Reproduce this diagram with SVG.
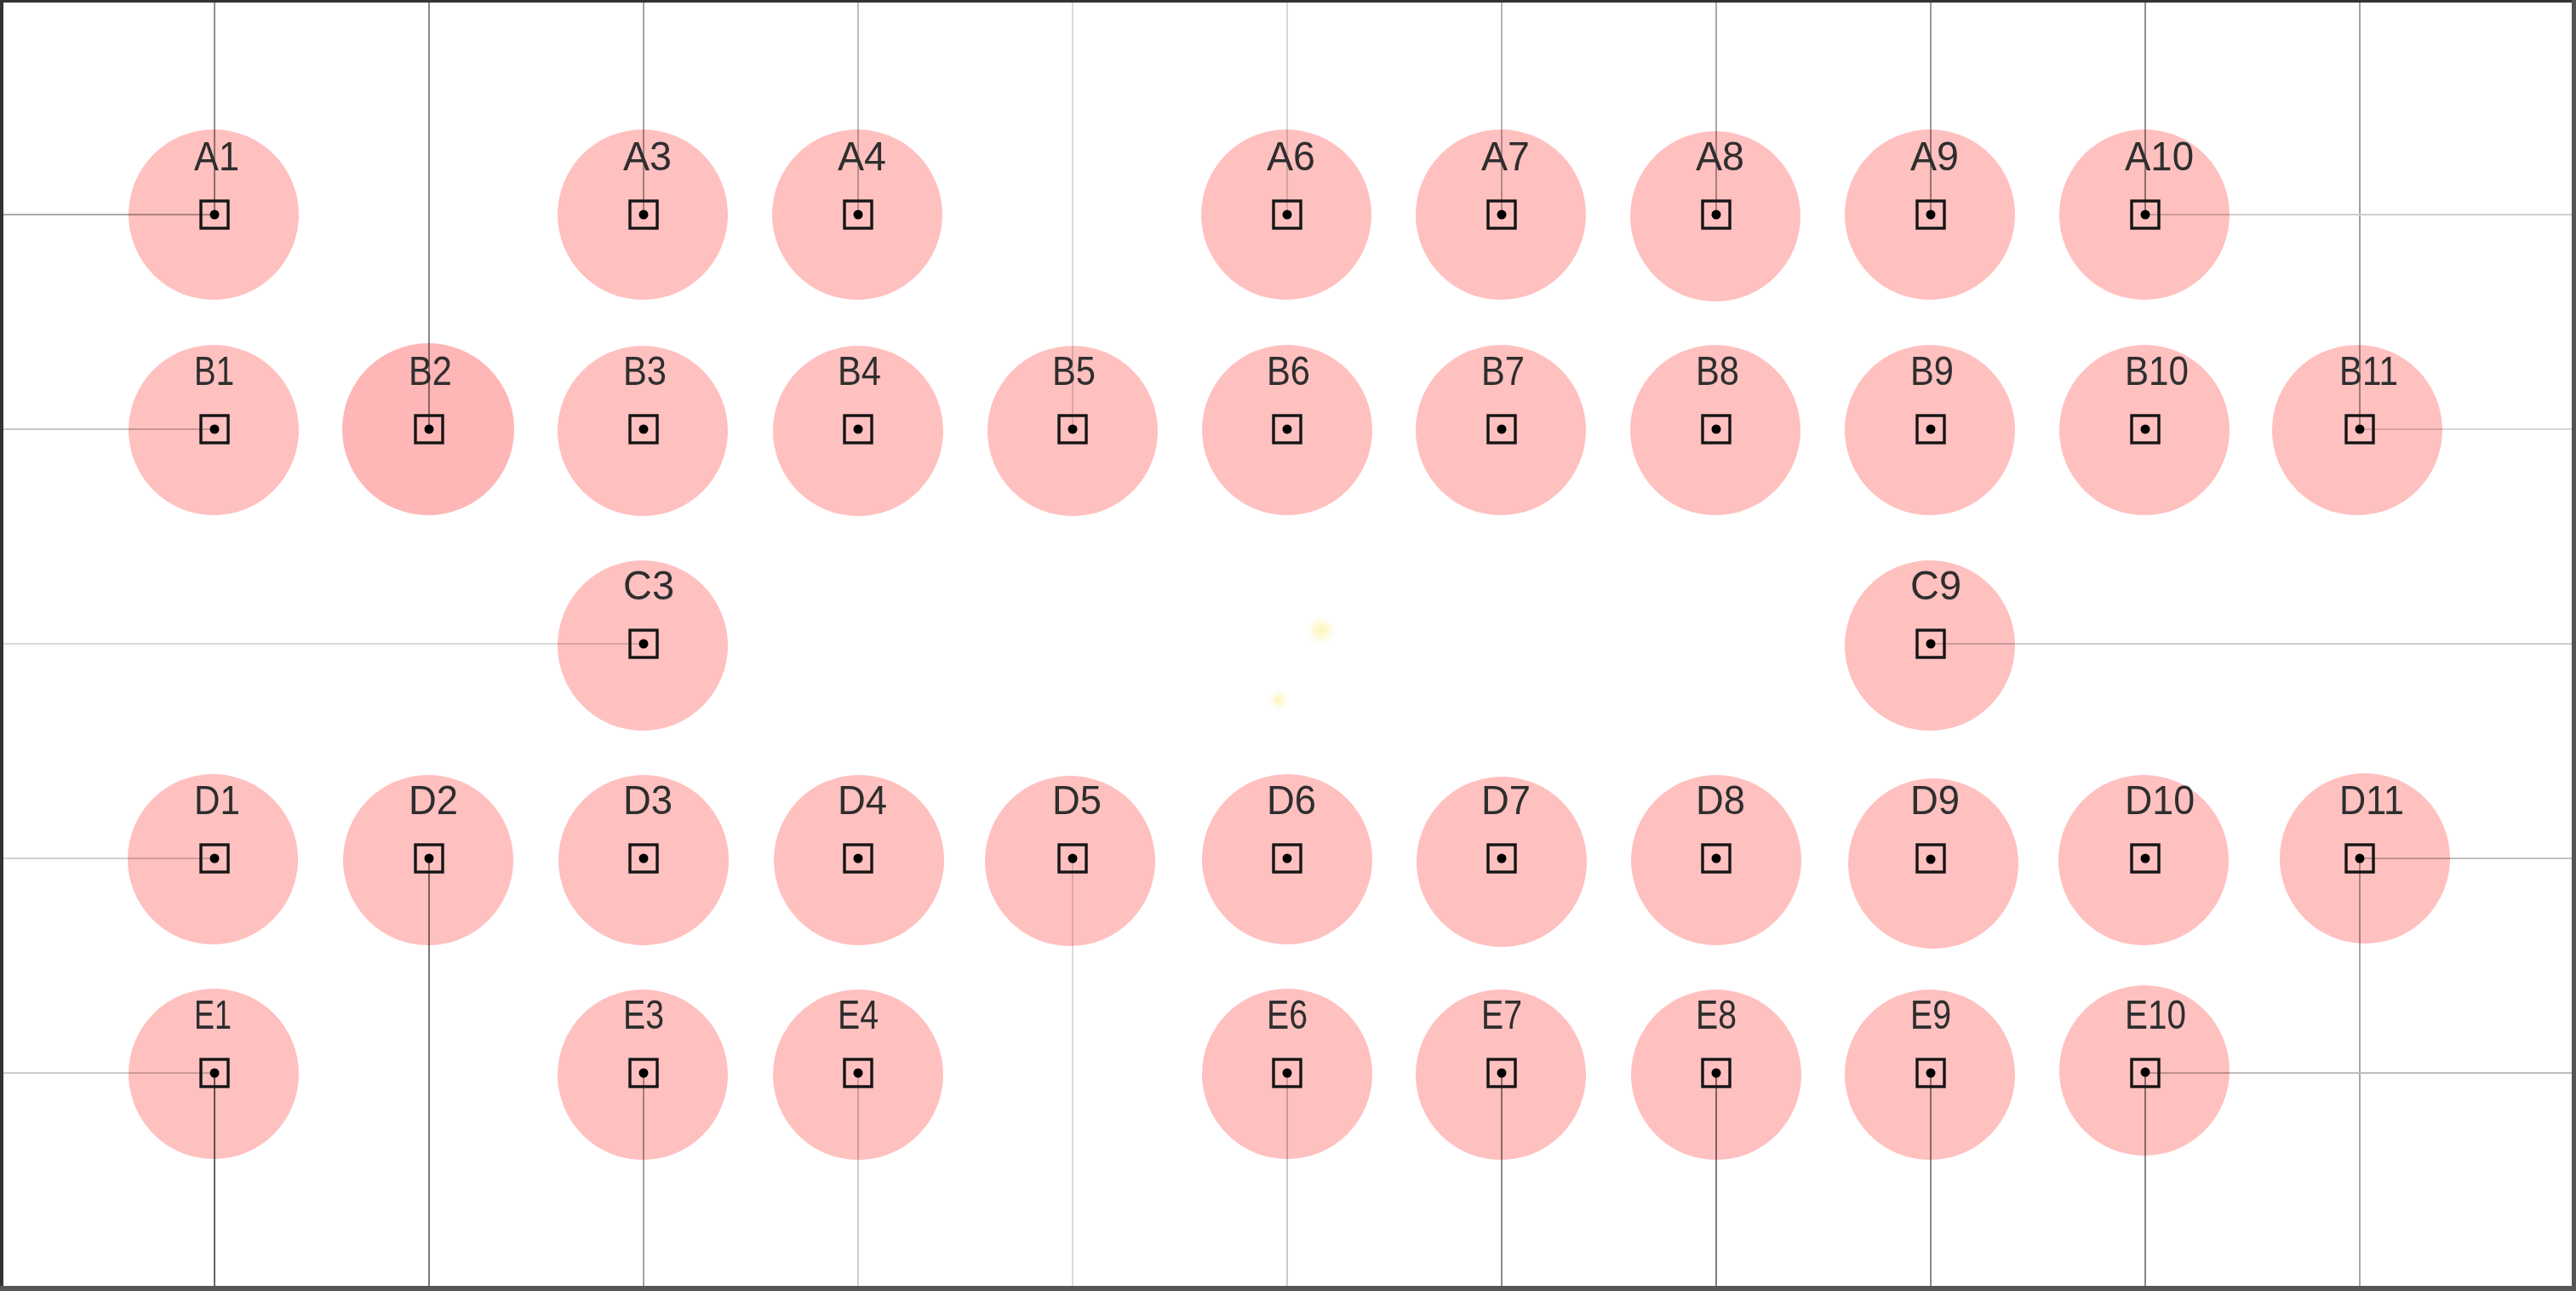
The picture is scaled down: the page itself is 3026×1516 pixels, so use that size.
<svg xmlns="http://www.w3.org/2000/svg" width="3026" height="1516" viewBox="0 0 3026 1516">
<defs>
<style>
.pad{fill:#ffc0c0;mix-blend-mode:multiply}
.pad2{fill:#ffb6b6;mix-blend-mode:multiply}
.box{fill:none;stroke:#151515;stroke-width:3.4}
.dot{fill:#000}
.lbl{font-family:"Liberation Sans",Arial,sans-serif;font-size:48px;fill:#2e2e2e}
.wire{stroke-width:2;fill:none}
</style>
<radialGradient id="glow">
<stop offset="0" stop-color="#fff4b0" stop-opacity="0.95"/>
<stop offset="0.5" stop-color="#fff6c4" stop-opacity="0.6"/>
<stop offset="1" stop-color="#fffbe6" stop-opacity="0"/>
</radialGradient>
</defs>
<rect x="0" y="0" width="3026" height="1516" fill="#ffffff"/>
<g id="glows">
<circle cx="1552" cy="740" r="18" fill="url(#glow)"/>
<circle cx="1502" cy="822" r="12" fill="url(#glow)"/>
</g>
<g id="connectors" class="wire">
<line x1="252" y1="0" x2="252" y2="252" stroke="#8f8f8f"/>
<line x1="504" y1="0" x2="504" y2="504" stroke="#8a8a8a"/>
<line x1="756" y1="0" x2="756" y2="252" stroke="#a5a5a5"/>
<line x1="1008" y1="0" x2="1008" y2="252" stroke="#bdbdbd"/>
<line x1="1260" y1="0" x2="1260" y2="504" stroke="#dcdcdc"/>
<line x1="1512" y1="0" x2="1512" y2="252" stroke="#d8d8d8"/>
<line x1="1764" y1="0" x2="1764" y2="252" stroke="#b5b5b5"/>
<line x1="2016" y1="0" x2="2016" y2="252" stroke="#a8a8a8"/>
<line x1="2268" y1="0" x2="2268" y2="252" stroke="#9a9a9a"/>
<line x1="2520" y1="0" x2="2520" y2="252" stroke="#909090"/>
<line x1="2772" y1="0" x2="2772" y2="504" stroke="#a0a0a0"/>

<line x1="252" y1="1260" x2="252" y2="1516" stroke="#666666"/>
<line x1="504" y1="1008" x2="504" y2="1516" stroke="#7a7a7a"/>
<line x1="756" y1="1260" x2="756" y2="1516" stroke="#a5a5a5"/>
<line x1="1008" y1="1260" x2="1008" y2="1516" stroke="#cfcfcf"/>
<line x1="1260" y1="1008" x2="1260" y2="1516" stroke="#dddddd"/>
<line x1="1512" y1="1260" x2="1512" y2="1516" stroke="#cccccc"/>
<line x1="1764" y1="1260" x2="1764" y2="1516" stroke="#8a8a8a"/>
<line x1="2016" y1="1260" x2="2016" y2="1516" stroke="#808080"/>
<line x1="2268" y1="1260" x2="2268" y2="1516" stroke="#8a8a8a"/>
<line x1="2520" y1="1260" x2="2520" y2="1516" stroke="#888888"/>
<line x1="2772" y1="1008" x2="2772" y2="1516" stroke="#a8a8a8"/>

<line x1="0" y1="252" x2="252" y2="252" stroke="#aaaaaa"/>
<line x1="0" y1="504" x2="252" y2="504" stroke="#c8c8c8"/>
<line x1="0" y1="756" x2="756" y2="756" stroke="#dadada"/>
<line x1="0" y1="1008" x2="252" y2="1008" stroke="#d0d0d0"/>
<line x1="0" y1="1260" x2="252" y2="1260" stroke="#cccccc"/>

<line x1="2520" y1="252" x2="3026" y2="252" stroke="#d0d0d0"/>
<line x1="2772" y1="504" x2="3026" y2="504" stroke="#d8d8d8"/>
<line x1="2268" y1="756" x2="3026" y2="756" stroke="#cccccc"/>
<line x1="2772" y1="1008" x2="3026" y2="1008" stroke="#c0c0c0"/>
<line x1="2520" y1="1260" x2="3026" y2="1260" stroke="#bdbdbd"/>
</g>
<g id="nodes">
<g id="A1"><circle class="pad" cx="251" cy="252" r="100"/><rect class="box" x="236" y="236" width="32" height="32"/><circle class="dot" cx="252" cy="252" r="5.5"/><text class="lbl" x="228" y="200" textLength="53" lengthAdjust="spacingAndGlyphs">A1</text></g>
<g id="A3"><circle class="pad" cx="755" cy="252" r="100"/><rect class="box" x="740" y="236" width="32" height="32"/><circle class="dot" cx="756" cy="252" r="5.5"/><text class="lbl" x="732" y="200" textLength="57" lengthAdjust="spacingAndGlyphs">A3</text></g>
<g id="A4"><circle class="pad" cx="1007" cy="252" r="100"/><rect class="box" x="992" y="236" width="32" height="32"/><circle class="dot" cx="1008" cy="252" r="5.5"/><text class="lbl" x="984" y="200" textLength="57" lengthAdjust="spacingAndGlyphs">A4</text></g>
<g id="A6"><circle class="pad" cx="1511" cy="252" r="100"/><rect class="box" x="1496" y="236" width="32" height="32"/><circle class="dot" cx="1512" cy="252" r="5.5"/><text class="lbl" x="1488" y="200" textLength="57" lengthAdjust="spacingAndGlyphs">A6</text></g>
<g id="A7"><circle class="pad" cx="1763" cy="252" r="100"/><rect class="box" x="1748" y="236" width="32" height="32"/><circle class="dot" cx="1764" cy="252" r="5.5"/><text class="lbl" x="1740" y="200" textLength="57" lengthAdjust="spacingAndGlyphs">A7</text></g>
<g id="A8"><circle class="pad" cx="2015" cy="254" r="100"/><rect class="box" x="2000" y="236" width="32" height="32"/><circle class="dot" cx="2016" cy="252" r="5.5"/><text class="lbl" x="1992" y="200" textLength="57" lengthAdjust="spacingAndGlyphs">A8</text></g>
<g id="A9"><circle class="pad" cx="2267" cy="252" r="100"/><rect class="box" x="2252" y="236" width="32" height="32"/><circle class="dot" cx="2268" cy="252" r="5.5"/><text class="lbl" x="2244" y="200" textLength="57" lengthAdjust="spacingAndGlyphs">A9</text></g>
<g id="A10"><circle class="pad" cx="2519" cy="252" r="100"/><rect class="box" x="2504" y="236" width="32" height="32"/><circle class="dot" cx="2520" cy="252" r="5.5"/><text class="lbl" x="2496" y="200" textLength="81" lengthAdjust="spacingAndGlyphs">A10</text></g>

<g id="B1"><circle class="pad" cx="251" cy="505" r="100"/><rect class="box" x="236" y="488" width="32" height="32"/><circle class="dot" cx="252" cy="504" r="5.5"/><text class="lbl" x="228" y="452" textLength="47" lengthAdjust="spacingAndGlyphs">B1</text></g>
<g id="B2"><circle class="pad2" cx="503" cy="504" r="101"/><rect class="box" x="488" y="488" width="32" height="32"/><circle class="dot" cx="504" cy="504" r="5.5"/><text class="lbl" x="480" y="452" textLength="51" lengthAdjust="spacingAndGlyphs">B2</text></g>
<g id="B3"><circle class="pad" cx="755" cy="506" r="100"/><rect class="box" x="740" y="488" width="32" height="32"/><circle class="dot" cx="756" cy="504" r="5.5"/><text class="lbl" x="732" y="452" textLength="51" lengthAdjust="spacingAndGlyphs">B3</text></g>
<g id="B4"><circle class="pad" cx="1008" cy="506" r="100"/><rect class="box" x="992" y="488" width="32" height="32"/><circle class="dot" cx="1008" cy="504" r="5.5"/><text class="lbl" x="984" y="452" textLength="51" lengthAdjust="spacingAndGlyphs">B4</text></g>
<g id="B5"><circle class="pad" cx="1260" cy="506" r="100"/><rect class="box" x="1244" y="488" width="32" height="32"/><circle class="dot" cx="1260" cy="504" r="5.5"/><text class="lbl" x="1236" y="452" textLength="51" lengthAdjust="spacingAndGlyphs">B5</text></g>
<g id="B6"><circle class="pad" cx="1512" cy="505" r="100"/><rect class="box" x="1496" y="488" width="32" height="32"/><circle class="dot" cx="1512" cy="504" r="5.5"/><text class="lbl" x="1488" y="452" textLength="51" lengthAdjust="spacingAndGlyphs">B6</text></g>
<g id="B7"><circle class="pad" cx="1763" cy="505" r="100"/><rect class="box" x="1748" y="488" width="32" height="32"/><circle class="dot" cx="1764" cy="504" r="5.5"/><text class="lbl" x="1740" y="452" textLength="51" lengthAdjust="spacingAndGlyphs">B7</text></g>
<g id="B8"><circle class="pad" cx="2015" cy="505" r="100"/><rect class="box" x="2000" y="488" width="32" height="32"/><circle class="dot" cx="2016" cy="504" r="5.5"/><text class="lbl" x="1992" y="452" textLength="51" lengthAdjust="spacingAndGlyphs">B8</text></g>
<g id="B9"><circle class="pad" cx="2267" cy="505" r="100"/><rect class="box" x="2252" y="488" width="32" height="32"/><circle class="dot" cx="2268" cy="504" r="5.5"/><text class="lbl" x="2244" y="452" textLength="51" lengthAdjust="spacingAndGlyphs">B9</text></g>
<g id="B10"><circle class="pad" cx="2519" cy="505" r="100"/><rect class="box" x="2504" y="488" width="32" height="32"/><circle class="dot" cx="2520" cy="504" r="5.5"/><text class="lbl" x="2496" y="452" textLength="75" lengthAdjust="spacingAndGlyphs">B10</text></g>
<g id="B11"><circle class="pad" cx="2769" cy="505" r="100"/><rect class="box" x="2756" y="488" width="32" height="32"/><circle class="dot" cx="2772" cy="504" r="5.5"/><text class="lbl" x="2748" y="452" textLength="69" lengthAdjust="spacingAndGlyphs">B11</text></g>

<g id="C3"><circle class="pad" cx="755" cy="758" r="100"/><rect class="box" x="740" y="740" width="32" height="32"/><circle class="dot" cx="756" cy="756" r="5.5"/><text class="lbl" x="732" y="704" textLength="60" lengthAdjust="spacingAndGlyphs">C3</text></g>
<g id="C9"><circle class="pad" cx="2267" cy="758" r="100"/><rect class="box" x="2252" y="740" width="32" height="32"/><circle class="dot" cx="2268" cy="756" r="5.5"/><text class="lbl" x="2244" y="704" textLength="60" lengthAdjust="spacingAndGlyphs">C9</text></g>

<g id="D1"><circle class="pad" cx="250" cy="1009" r="100"/><rect class="box" x="236" y="992" width="32" height="32"/><circle class="dot" cx="252" cy="1008" r="5.5"/><text class="lbl" x="228" y="956" textLength="54" lengthAdjust="spacingAndGlyphs">D1</text></g>
<g id="D2"><circle class="pad" cx="503" cy="1010" r="100"/><rect class="box" x="488" y="992" width="32" height="32"/><circle class="dot" cx="504" cy="1008" r="5.5"/><text class="lbl" x="480" y="956" textLength="58" lengthAdjust="spacingAndGlyphs">D2</text></g>
<g id="D3"><circle class="pad" cx="756" cy="1010" r="100"/><rect class="box" x="740" y="992" width="32" height="32"/><circle class="dot" cx="756" cy="1008" r="5.5"/><text class="lbl" x="732" y="956" textLength="58" lengthAdjust="spacingAndGlyphs">D3</text></g>
<g id="D4"><circle class="pad" cx="1009" cy="1010" r="100"/><rect class="box" x="992" y="992" width="32" height="32"/><circle class="dot" cx="1008" cy="1008" r="5.5"/><text class="lbl" x="984" y="956" textLength="58" lengthAdjust="spacingAndGlyphs">D4</text></g>
<g id="D5"><circle class="pad" cx="1257" cy="1011" r="100"/><rect class="box" x="1244" y="992" width="32" height="32"/><circle class="dot" cx="1260" cy="1008" r="5.5"/><text class="lbl" x="1236" y="956" textLength="58" lengthAdjust="spacingAndGlyphs">D5</text></g>
<g id="D6"><circle class="pad" cx="1512" cy="1009" r="100"/><rect class="box" x="1496" y="992" width="32" height="32"/><circle class="dot" cx="1512" cy="1008" r="5.5"/><text class="lbl" x="1488" y="956" textLength="58" lengthAdjust="spacingAndGlyphs">D6</text></g>
<g id="D7"><circle class="pad" cx="1764" cy="1012" r="100"/><rect class="box" x="1748" y="992" width="32" height="32"/><circle class="dot" cx="1764" cy="1008" r="5.5"/><text class="lbl" x="1740" y="956" textLength="58" lengthAdjust="spacingAndGlyphs">D7</text></g>
<g id="D8"><circle class="pad" cx="2016" cy="1010" r="100"/><rect class="box" x="2000" y="992" width="32" height="32"/><circle class="dot" cx="2016" cy="1008" r="5.5"/><text class="lbl" x="1992" y="956" textLength="58" lengthAdjust="spacingAndGlyphs">D8</text></g>
<g id="D9"><circle class="pad" cx="2271" cy="1014" r="100"/><rect class="box" x="2252" y="992" width="32" height="32"/><circle class="dot" cx="2268" cy="1009" r="5.5"/><text class="lbl" x="2244" y="956" textLength="58" lengthAdjust="spacingAndGlyphs">D9</text></g>
<g id="D10"><circle class="pad" cx="2518" cy="1010" r="100"/><rect class="box" x="2504" y="992" width="32" height="32"/><circle class="dot" cx="2520" cy="1008" r="5.5"/><text class="lbl" x="2496" y="956" textLength="82" lengthAdjust="spacingAndGlyphs">D10</text></g>
<g id="D11"><circle class="pad" cx="2778" cy="1008" r="100"/><rect class="box" x="2756" y="992" width="32" height="32"/><circle class="dot" cx="2772" cy="1008" r="5.5"/><text class="lbl" x="2748" y="956" textLength="76" lengthAdjust="spacingAndGlyphs">D11</text></g>

<g id="E1"><circle class="pad" cx="251" cy="1261" r="100"/><rect class="box" x="236" y="1244" width="32" height="32"/><circle class="dot" cx="252" cy="1260" r="5.5"/><text class="lbl" x="228" y="1208" textLength="44" lengthAdjust="spacingAndGlyphs">E1</text></g>
<g id="E3"><circle class="pad" cx="755" cy="1262" r="100"/><rect class="box" x="740" y="1244" width="32" height="32"/><circle class="dot" cx="756" cy="1260" r="5.5"/><text class="lbl" x="732" y="1208" textLength="48" lengthAdjust="spacingAndGlyphs">E3</text></g>
<g id="E4"><circle class="pad" cx="1008" cy="1262" r="100"/><rect class="box" x="992" y="1244" width="32" height="32"/><circle class="dot" cx="1008" cy="1260" r="5.5"/><text class="lbl" x="984" y="1208" textLength="48" lengthAdjust="spacingAndGlyphs">E4</text></g>
<g id="E6"><circle class="pad" cx="1512" cy="1261" r="100"/><rect class="box" x="1496" y="1244" width="32" height="32"/><circle class="dot" cx="1512" cy="1260" r="5.5"/><text class="lbl" x="1488" y="1208" textLength="48" lengthAdjust="spacingAndGlyphs">E6</text></g>
<g id="E7"><circle class="pad" cx="1763" cy="1262" r="100"/><rect class="box" x="1748" y="1244" width="32" height="32"/><circle class="dot" cx="1764" cy="1260" r="5.5"/><text class="lbl" x="1740" y="1208" textLength="48" lengthAdjust="spacingAndGlyphs">E7</text></g>
<g id="E8"><circle class="pad" cx="2016" cy="1262" r="100"/><rect class="box" x="2000" y="1244" width="32" height="32"/><circle class="dot" cx="2016" cy="1260" r="5.5"/><text class="lbl" x="1992" y="1208" textLength="48" lengthAdjust="spacingAndGlyphs">E8</text></g>
<g id="E9"><circle class="pad" cx="2267" cy="1262" r="100"/><rect class="box" x="2252" y="1244" width="32" height="32"/><circle class="dot" cx="2268" cy="1260" r="5.5"/><text class="lbl" x="2244" y="1208" textLength="48" lengthAdjust="spacingAndGlyphs">E9</text></g>
<g id="E10"><circle class="pad" cx="2519" cy="1257" r="100"/><rect class="box" x="2504" y="1244" width="32" height="32"/><circle class="dot" cx="2520" cy="1259" r="5.5"/><text class="lbl" x="2496" y="1208" textLength="72" lengthAdjust="spacingAndGlyphs">E10</text></g>
</g>
<g id="frame">
<rect x="0" y="0" width="3026" height="3" fill="#333333"/>
<rect x="0" y="0" width="4" height="1516" fill="#333333"/>
<rect x="3021" y="0" width="5" height="1516" fill="#555555"/>
<rect x="0" y="1510" width="3026" height="6" fill="#555555"/>
</g>
</svg>
